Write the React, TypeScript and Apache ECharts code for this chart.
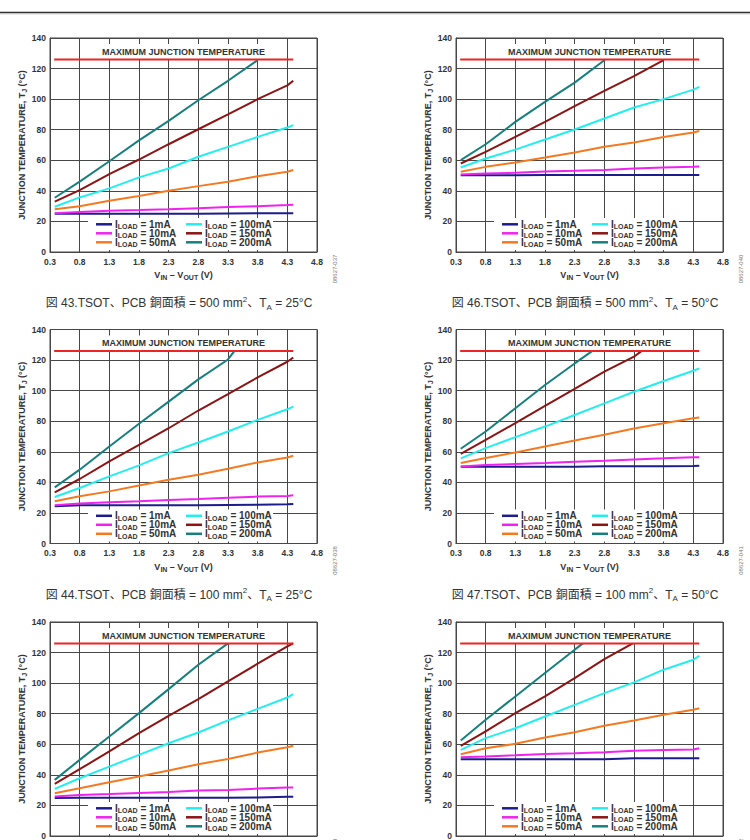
import React, { useEffect, useRef } from 'react';
import * as echarts from 'echarts';

// ---- axis / reference values ----
const V_DIFF = [0.38, 0.8, 1.3, 1.8, 2.3, 2.8, 3.3, 3.8, 4.3, 4.4]; // VIN - VOUT (V)
const X_MIN = 0.3;
const X_MAX = 4.8;
const X_STEP = 0.5;
const Y_MIN = 0;
const Y_MAX = 140;
const Y_STEP = 20;
const TJ_MAX = 126;
const TJ_MAX_SPAN = [0.37, 4.4];

const LOADS = ['1mA', '10mA', '50mA', '100mA', '150mA', '200mA'];
const LOAD_COLORS = ['#1c1c8c', '#f022f0', '#f47a22', '#22eef0', '#8c1414', '#16807e'];

// ---- Fig 43: TSOT, 500 mm2, TA = 25°C ----
const F43_1MA = [25, 25, 25, 25, 25, 25, 25.2, 25.3, 25.3, 25.3];
const F43_10MA = [25.3, 26.1, 27, 27.4, 27.9, 28.7, 29.4, 30, 30.7, 30.9];
const F43_50MA = [27.9, 30, 33.5, 36.6, 40, 43.1, 46, 49.6, 52.5, 53.6];
const F43_100MA = [29.6, 35.7, 41.6, 48.8, 54.6, 62.3, 68.8, 75.3, 81.4, 83];
const F43_150MA = [32.9, 40.5, 51, 60.5, 70.5, 80.3, 90, 100, 109, 112];
const F43_200MA = [35.5, 46, 59.4, 73, 85.8, 99.3, 112, 125.5];
const F43_END = [null, null, null, null, null, null];

// ---- Fig 46: TSOT, 500 mm2, TA = 50°C ----
const F46_1MA = [50.2, 50.2, 50.2, 50.3, 50.3, 50.3, 50.3, 50.3, 50.3, 50.3];
const F46_10MA = [50.7, 51.4, 51.8, 52.7, 53.1, 53.6, 54.6, 55.3, 55.7, 55.9];
const F46_50MA = [52.5, 55.7, 58.6, 61.8, 65.1, 68.8, 71.6, 75.3, 78.2, 79.2];
const F46_100MA = [55.3, 61.2, 67, 73.6, 80.1, 87.3, 94.5, 100, 106.2, 108];
const F46_150MA = [57.9, 65.5, 75.3, 85.1, 95.4, 105.4, 115, 125.6];
const F46_200MA = [60.1, 70.5, 85.1, 98.2, 110.8, 125.4];
const F46_END = [null, null, null, null, null, null];

// ---- Fig 44: TSOT, 100 mm2, TA = 25°C ----
const F44_1MA = [24.4, 25, 25, 25, 25, 25, 25.2, 25.3, 25.6, 25.9];
const F44_10MA = [25, 26.1, 27, 27.6, 28.5, 29.1, 30, 30.7, 31.1, 31.5];
const F44_50MA = [27.6, 30.9, 34.1, 38, 41.7, 45, 48.9, 53, 56.3, 57.4];
const F44_100MA = [30.4, 36.3, 43.9, 51.1, 59.1, 66.1, 73.3, 80.9, 87.8, 89.6];
const F44_150MA = [33.5, 42.2, 53.7, 64.6, 75.4, 87, 97.8, 108.7, 118.9, 121.7];
const F44_200MA = [36.7, 48.3, 63.5, 78.3, 92.8, 107.4, 120.4];
const F44_END = [null, null, null, null, null, 3.41];

// ---- Fig 47: TSOT, 100 mm2, TA = 50°C ----
const F47_1MA = [50.2, 50.2, 50.2, 50.2, 50.2, 50.5, 50.6, 50.6, 50.7, 50.8];
const F47_10MA = [50.4, 51.3, 52, 52.6, 53.5, 54.1, 55, 55.7, 56.5, 56.5];
const F47_50MA = [52.6, 55.9, 59.6, 63.5, 67.4, 71.1, 75.2, 78.7, 82, 82.4];
const F47_100MA = [55.7, 62.4, 69.6, 76.5, 84.1, 91.7, 99.3, 106.3, 113, 114.6];
const F47_150MA = [58.7, 67.8, 78.7, 90, 101.1, 112.4, 122.2];
const F47_200MA = [62, 73.3, 88.5, 103.7, 117.8];
const F47_END = [null, null, null, null, 3.43, 2.6];

// ---- Fig 45: TA = 25°C (caption below page) ----
const F45_1MA = [24.9, 25, 25, 25, 25, 25, 25, 25.2, 25.7, 25.7];
const F45_10MA = [25.8, 26.9, 27.5, 28.2, 28.8, 29.7, 30.1, 31, 31.7, 31.7];
const F45_50MA = [28, 31.2, 35.2, 38.9, 42.8, 47, 50.4, 54.6, 58.1, 59];
const F45_100MA = [30.8, 37.8, 45.4, 53.1, 60.7, 67.7, 75.6, 83.2, 90.6, 92.8];
const F45_150MA = [34.1, 43.7, 55.3, 67.3, 78.6, 89.5, 101.1, 112.7, 124];
const F45_200MA = [36.7, 49.8, 65.1, 80.4, 96.1, 112];
const F45_END = [null, null, null, null, 4.4, 3.3];

// ---- Fig 48: TA = 50°C (caption below page) ----
const F48_1MA = [50.2, 50.2, 50.2, 50.2, 50.2, 50.2, 50.9, 50.9, 50.9, 50.9];
const F48_10MA = [51.5, 52, 52.8, 53.7, 54.2, 54.8, 55.7, 56.3, 56.6, 57.4];
const F48_50MA = [53.5, 57.4, 60.3, 64.4, 67.9, 72.1, 75.6, 79.3, 82.6, 83.6];
const F48_100MA = [56.3, 64, 70.5, 78.2, 85.8, 93.5, 100.5, 108.8, 115.3, 117.9];
const F48_150MA = [59, 68.4, 80.4, 91.3, 103.3, 115.7];
const F48_200MA = [62.5, 76, 91.3, 106.6, 121.9];
const F48_END = [null, null, null, null, 3.28, 2.44];

const PANEL_SERIES = [
  [F43_1MA, F43_10MA, F43_50MA, F43_100MA, F43_150MA, F43_200MA],
  [F46_1MA, F46_10MA, F46_50MA, F46_100MA, F46_150MA, F46_200MA],
  [F44_1MA, F44_10MA, F44_50MA, F44_100MA, F44_150MA, F44_200MA],
  [F47_1MA, F47_10MA, F47_50MA, F47_100MA, F47_150MA, F47_200MA],
  [F45_1MA, F45_10MA, F45_50MA, F45_100MA, F45_150MA, F45_200MA],
  [F48_1MA, F48_10MA, F48_50MA, F48_100MA, F48_150MA, F48_200MA],
];
const PANEL_ENDS = [F43_END, F46_END, F44_END, F47_END, F45_END, F48_END];

const FIG_NUMBERS = ['43', '46', '44', '47', '45', '48'];
const COPPER_AREAS = ['500', '500', '100', '100', '', ''];
const AMBIENTS = ['25', '50', '25', '50', '25', '50'];
const CODES = ['08627-037', '08627-040', '08627-038', '08627-041', '08627-039', '08627-042'];

// ---- layout ----
const GRID_LEFTS = [50, 456];
const GRID_TOPS = [38, 329.5, 622];
const GRID_W = 267;
const GRID_H = 214;

const FONT = "'Liberation Sans', Arial, Helvetica, sans-serif";
const CJK_FONT = "'Liberation Sans', 'Noto Sans CJK JP', sans-serif";
const TEXT = '#333';
const GRID_LINE = '#474747';

const NAME_RICH = {
  n: { fontSize: 9, fontWeight: 'bold', fontFamily: FONT, color: TEXT, lineHeight: 12, verticalAlign: 'middle' },
  s: { fontSize: 7, fontWeight: 'bold', fontFamily: FONT, color: TEXT, lineHeight: 7, verticalAlign: 'bottom' },
};

function buildOption() {
  const grids: any[] = [];
  const xAxes: any[] = [];
  const yAxes: any[] = [];
  const series: any[] = [];
  const graphics: any[] = [];

  graphics.push({
    type: 'line',
    shape: { x1: 0, y1: 12.5, x2: 750, y2: 12.5 },
    style: { stroke: '#2e2e2e', lineWidth: 1.3 },
  });
  graphics.push({
    type: 'line',
    shape: { x1: 0, y1: 13.9, x2: 750, y2: 13.9 },
    style: { stroke: '#bdbdbd', lineWidth: 0.8 },
  });

  PANEL_SERIES.forEach((panel, i) => {
    const gl = GRID_LEFTS[i % 2];
    const row = Math.floor(i / 2);
    const gt = GRID_TOPS[row];
    const lastRow = row === GRID_TOPS.length - 1;
    grids.push({
      left: gl,
      top: gt,
      width: GRID_W,
      height: GRID_H,
      outerBoundsMode: 'none',
      containLabel: false,
      show: true,
      backgroundColor: '#fff',
      borderColor: GRID_LINE,
      borderWidth: 1,
    });
    xAxes.push({
      type: 'value',
      gridIndex: i,
      min: X_MIN,
      max: X_MAX,
      interval: X_STEP,
      axisLine: { show: true, onZero: false, lineStyle: { color: GRID_LINE, width: 1 } },
      axisTick: { show: false },
      splitLine: { show: true, lineStyle: { color: GRID_LINE, width: 1 } },
      axisLabel: {
        show: !lastRow,
        interval: 0,
        showMinLabel: true,
        showMaxLabel: true,
        formatter: (v: number) => v.toFixed(1),
        fontSize: 8.5,
        fontWeight: 'bold',
        color: TEXT,
        fontFamily: FONT,
        margin: 5,
      },
      name: lastRow ? '' : '{n|V}{s|IN}{n| – V}{s|OUT}{n| (V)}',
      nameLocation: 'middle',
      nameGap: 17,
      nameTextStyle: { color: TEXT, fontFamily: FONT, fontSize: 9, fontWeight: 'bold', rich: NAME_RICH },
    });
    yAxes.push({
      type: 'value',
      gridIndex: i,
      min: Y_MIN,
      max: Y_MAX,
      interval: Y_STEP,
      axisLine: { show: true, lineStyle: { color: GRID_LINE, width: 1 } },
      axisTick: { show: false },
      splitLine: { show: true, lineStyle: { color: GRID_LINE, width: 1 } },
      axisLabel: { fontSize: 8.5, fontWeight: 'bold', color: TEXT, fontFamily: FONT, margin: 4 },
      name: '{n|JUNCTION TEMPERATURE, T}{s|J}{n| (°C)}',
      nameLocation: 'middle',
      nameGap: 21,
      nameTextStyle: { color: TEXT, fontFamily: FONT, fontSize: 9, fontWeight: 'bold', rich: NAME_RICH },
    });

    panel.forEach((vals, j) => {
      const data: number[][] = vals.map((t, k) => [V_DIFF[k], t]);
      const end = PANEL_ENDS[i][j];
      if (end != null) data.push([end, TJ_MAX]);
      series.push({
        type: 'line',
        name: LOADS[j],
        xAxisIndex: i,
        yAxisIndex: i,
        data,
        showSymbol: false,
        symbol: 'none',
        color: LOAD_COLORS[j],
        lineStyle: { color: LOAD_COLORS[j], width: 2 },
        z: 2,
      });
    });
    series.push({
      type: 'line',
      name: 'MAXIMUM JUNCTION TEMPERATURE',
      xAxisIndex: i,
      yAxisIndex: i,
      data: TJ_MAX_SPAN.map((x) => [x, TJ_MAX]),
      showSymbol: false,
      symbol: 'none',
      color: '#ee2424',
      lineStyle: { color: '#ee2424', width: 2 },
      z: 20,
    });

    // legend box (white, covers the grid lines)
    graphics.push({
      type: 'rect',
      z: 5,
      shape: { x: gl + 38, y: gt + 180, width: 185, height: 32 },
      style: { fill: '#fff' },
    });
    LOADS.forEach((load, j) => {
      const col = Math.floor(j / 3);
      const r = j % 3;
      const x1 = gl + 46 + col * 90;
      const y = gt + 186.3 + r * 9;
      graphics.push({
        type: 'line',
        z: 6,
        shape: { x1, y1: y, x2: x1 + 16, y2: y },
        style: { stroke: LOAD_COLORS[j], lineWidth: 2.5 },
      });
      graphics.push({
        type: 'text',
        z: 6,
        x: x1 + 19,
        y,
        style: {
          text: `{n|I}{s|LOAD}{n| = ${load}}`,
          fill: TEXT,
          fontFamily: FONT,
          fontSize: 10,
          fontWeight: 'bold',
          align: 'left',
          verticalAlign: 'middle',
          rich: {
            n: { fontSize: 10, fontWeight: 'bold', fontFamily: FONT, fill: TEXT, lineHeight: 12, verticalAlign: 'middle' },
            s: { fontSize: 7, fontWeight: 'bold', fontFamily: FONT, fill: TEXT, lineHeight: 7, verticalAlign: 'bottom' },
          },
        },
      });
    });

    const cx = gl + GRID_W / 2;
    graphics.push({
      type: 'text',
      z: 10,
      x: cx,
      y: gt + 13.5,
      style: {
        text: 'MAXIMUM JUNCTION TEMPERATURE',
        fill: TEXT,
        fontFamily: FONT,
        fontSize: 9,
        fontWeight: 'bold',
        align: 'center',
        verticalAlign: 'middle',
        backgroundColor: '#fff',
        padding: [3, 4],
      },
    });
    graphics.push({
      type: 'text',
      z: 10,
      x: gl + GRID_W + 18,
      y: gt + GRID_H + 17,
      rotation: Math.PI / 2,
      style: {
        text: CODES[i],
        fill: '#777',
        fontFamily: FONT,
        fontSize: 6,
        align: 'center',
        verticalAlign: 'middle',
      },
    });
    if (COPPER_AREAS[i]) {
      graphics.push({
        type: 'text',
        z: 10,
        x: cx - 4.5,
        y: gt + GRID_H + 51,
        style: {
          text: `{c|図 ${FIG_NUMBERS[i]}.TSOT、PCB 銅面積 = ${COPPER_AREAS[i]} mm}{p|2}{c|、T}{b|A}{c| = ${AMBIENTS[i]}°C}`,
          fill: TEXT,
          fontFamily: CJK_FONT,
          fontSize: 12,
          align: 'center',
          verticalAlign: 'middle',
          rich: {
            c: { fontSize: 12, fontFamily: CJK_FONT, fill: TEXT, lineHeight: 16, verticalAlign: 'middle' },
            p: { fontSize: 8, fontFamily: CJK_FONT, fill: TEXT, lineHeight: 9, verticalAlign: 'top' },
            b: { fontSize: 8, fontFamily: CJK_FONT, fill: TEXT, lineHeight: 9, verticalAlign: 'bottom' },
          },
        },
      });
    }
  });

  return {
    animation: false,
    backgroundColor: '#fff',
    textStyle: { fontFamily: FONT },
    grid: grids,
    xAxis: xAxes,
    yAxis: yAxes,
    series,
    graphic: graphics,
  };
}

export default function App() {
  const ref = useRef<HTMLDivElement>(null);
  useEffect(() => {
    if (!ref.current) return;
    const chart = echarts.init(ref.current, undefined, { renderer: 'svg' });
    chart.setOption(buildOption() as any);
    return () => chart.dispose();
  }, []);
  return (
    <div
      ref={ref}
      style={{ position: 'absolute', left: 0, top: 0, width: 750, height: 840, background: '#fff' }}
    />
  );
}
